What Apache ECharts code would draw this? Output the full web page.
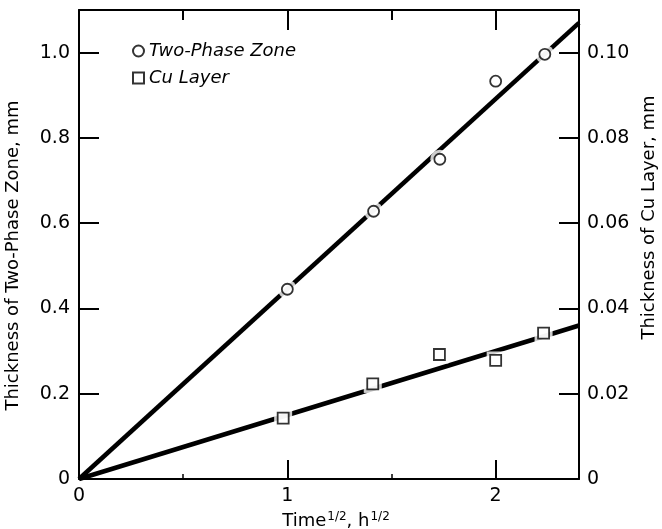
<!DOCTYPE html>
<html>
<head>
<meta charset="utf-8">
<script src="https://cdn.jsdelivr.net/npm/echarts@6/dist/echarts.min.js"></script>
<style>
  html, body { margin: 0; padding: 0; background: #fff; }
  #main { width: 662px; height: 529px; }
</style>
</head>
<body>
<div id="main"></div>
<script>
// Time^1/2 (h^1/2) of each measurement
var timeTwoPhase = [1.0, 1.414, 1.732, 2.0, 2.236];
var timeCu = [0.98, 1.41, 1.73, 2.0, 2.23];
// thickness of two-phase zone, mm (left axis)
var twoPhase = [0.445, 0.628, 0.750, 0.933, 0.996];
// thickness of Cu layer, mm (right axis)
var cuLayer = [0.0143, 0.0223, 0.0292, 0.0278, 0.0342];
// fitted straight lines through the origin
var fitX = [0, 2.4];
var fitTwoPhase = [0, 1.07];
var fitCu = [0, 0.036];

function pairs(xs, ys) {
  return xs.map(function (x, i) { return [x, ys[i]]; });
}

var chart = echarts.init(document.getElementById('main'));
var font = 'DejaVu Sans';

var tickStyle = { color: '#000', width: 2 };

var option = {
  backgroundColor: '#fff',
  animation: false,
  textStyle: { fontFamily: font, color: '#000' },
  grid: { left: 79, right: 83, top: 10, bottom: 50, outerBoundsMode: 'none', containLabel: false },
  legend: {
    orient: 'vertical',
    left: 127,
    top: 37,
    itemWidth: 11,
    itemHeight: 11,
    itemGap: 9,
    data: ['Two-Phase Zone', 'Cu Layer'],
    textStyle: { fontFamily: font, fontSize: 18, fontStyle: 'italic', color: '#000' }
  },
  xAxis: [{
    type: 'value', position: 'bottom', min: 0, max: 2.4, interval: 1,
    name: 'Time{sup|1/2}, h{sup|1/2}',
    nameLocation: 'middle', nameGap: 28,
    nameTextStyle: {
      fontFamily: font, fontSize: 18, color: '#000', padding: [0, 0, 0, 14],
      rich: { sup: { fontFamily: font, fontSize: 12, verticalAlign: 'top', padding: [0, 0, 8, 1] } }
    },
    axisLine: { onZero: false, lineStyle: tickStyle },
    axisTick: { inside: true, length: 19, lineStyle: tickStyle },
    minorTick: { show: true, splitNumber: 2, length: 5, lineStyle: { color: '#000', width: 1.5 } },
    splitLine: { show: false },
    axisLabel: { showMaxLabel: false, fontSize: 19, color: '#000', margin: 8 }
  }, {
    type: 'value', position: 'top', min: 0, max: 2.4, interval: 1,
    axisLine: { onZero: false, lineStyle: tickStyle },
    axisTick: { inside: true, length: 20, lineStyle: tickStyle },
    minorTick: { show: true, splitNumber: 2, length: 10, lineStyle: tickStyle },
    splitLine: { show: false },
    axisLabel: { show: false }
  }],
  yAxis: [{
    type: 'value', position: 'left', min: 0, max: 1.1, interval: 0.2,
    name: 'Thickness of Two-Phase Zone, mm',
    nameLocation: 'middle', nameRotate: 90, nameGap: 57,
    nameTextStyle: { fontFamily: font, fontSize: 18, color: '#000', padding: [0, 22, 0, 0] },
    axisLine: { onZero: false, lineStyle: tickStyle },
    axisTick: { inside: true, length: 20, lineStyle: tickStyle },
    splitLine: { show: false },
    axisLabel: {
      showMaxLabel: false, fontSize: 19, color: '#000', margin: 9,
      formatter: function (v) { return v === 0 ? '0' : v.toFixed(1); }
    }
  }, {
    type: 'value', position: 'right', min: 0, max: 0.11, interval: 0.02,
    name: 'Thickness of Cu Layer, mm',
    nameLocation: 'middle', nameRotate: 90, nameGap: 55,
    nameTextStyle: { fontFamily: font, fontSize: 18, color: '#000', padding: [0, 0, 0, 54] },
    axisLine: { onZero: false, lineStyle: tickStyle },
    axisTick: { inside: true, length: 20, lineStyle: tickStyle },
    splitLine: { show: false },
    axisLabel: {
      showMaxLabel: false, fontSize: 19, color: '#000', margin: 8,
      formatter: function (v) { return v === 0 ? '0' : v.toFixed(2); }
    }
  }],
  series: [
    // fit lines
    {
      name: 'fit two-phase', type: 'line', yAxisIndex: 0, showSymbol: false, z: 2,
      data: pairs(fitX, fitTwoPhase),
      lineStyle: { color: '#000', width: 4.5 }
    },
    {
      name: 'fit cu', type: 'line', yAxisIndex: 1, showSymbol: false, z: 2,
      data: pairs(fitX, fitCu),
      lineStyle: { color: '#000', width: 4.5 }
    },
    // white gaps around the markers
    {
      name: 'gap two-phase', type: 'scatter', yAxisIndex: 0, z: 3,
      symbol: 'circle', symbolSize: 19, silent: true,
      data: pairs(timeTwoPhase, twoPhase),
      itemStyle: { color: '#fff' }
    },
    {
      name: 'gap cu', type: 'scatter', yAxisIndex: 1, z: 3,
      symbol: 'rect', symbolSize: 18, silent: true,
      data: pairs(timeCu, cuLayer),
      itemStyle: { color: '#fff' }
    },
    // measured points
    {
      name: 'Two-Phase Zone', type: 'scatter', yAxisIndex: 0, z: 4,
      symbol: 'circle', symbolSize: 11,
      data: pairs(timeTwoPhase, twoPhase),
      itemStyle: { color: '#fff', borderColor: '#000', borderWidth: 1.8 }
    },
    {
      name: 'Cu Layer', type: 'scatter', yAxisIndex: 1, z: 4,
      symbol: 'rect', symbolSize: 11,
      data: pairs(timeCu, cuLayer),
      itemStyle: { color: '#fff', borderColor: '#000', borderWidth: 1.8 }
    }
  ]
};

chart.setOption(option);
</script>
</body>
</html>
